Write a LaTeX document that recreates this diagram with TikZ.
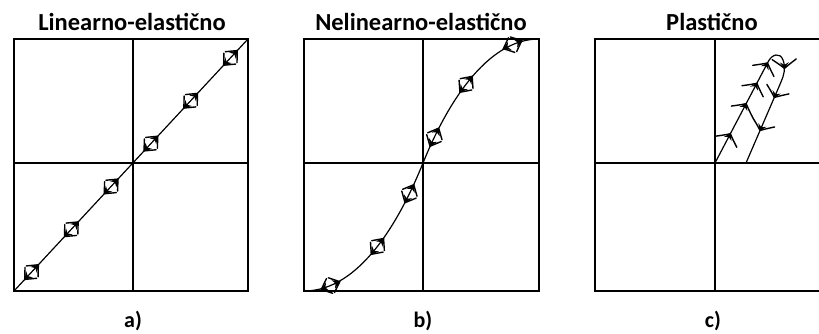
\documentclass[tikz,border=0pt]{standalone}
\usepackage{fontspec}
\setmainfont{Carlito}
\usetikzlibrary{decorations.markings}
\tikzset{
  frame/.style={line width=1.7pt},
  curve/.style={line width=1.2pt},
  ttl/.style={font=\bfseries\fontsize{24.5}{27}\selectfont, anchor=base, inner sep=0pt},
  lbl/.style={font=\bfseries\fontsize{22}{24}\selectfont, anchor=base, inner sep=0pt},
  barb/.style={line width=1.4pt, line cap=round},
  twoway/.style={postaction={decorate, decoration={markings,
    mark=between positions #1 with {%
      \draw[barb] (1pt,8pt) .. controls (6pt,4pt) .. (10pt,0pt) .. controls (6pt,-4pt) .. (1pt,-8pt);
      \draw[barb] (-1pt,8pt) .. controls (-6pt,4pt) .. (-10pt,0pt) .. controls (-6pt,-4pt) .. (-1pt,-8pt);
      \fill (10.5pt,0pt) -- (3pt,4.5pt) -- (5.5pt,0pt) -- (3pt,-4.5pt) -- cycle;
      \fill (-10.5pt,0pt) -- (-3pt,4.5pt) -- (-5.5pt,0pt) -- (-3pt,-4.5pt) -- cycle;}}}},
  oneway/.style={postaction={decorate, decoration={markings,
    mark=at position #1 with {%
      \draw[barb] (-8pt,12pt) .. controls (-3pt,5pt) .. (1pt,0pt) .. controls (-3pt,-5pt) .. (-8pt,-12pt);
      \fill (1.5pt,0pt) -- (-5pt,4.5pt) -- (-2.5pt,0pt) -- (-5pt,-4.5pt) -- cycle;}}}}
}
\begin{document}
\begin{tikzpicture}[x=1pt,y=-1pt]
\clip (0,0) rectangle (819,334);
\useasboundingbox (0,0) rectangle (819,334);

% ---------- panel a ----------
\coordinate (oa) at (133,163);
\draw[frame] (14,39) rectangle (248,291);
\draw[frame] (133,39) -- (133,291);
\draw[frame] (14,163) -- (248,163);
\coordinate (a0) at (14,291);
\coordinate (a1) at (248,39);
\draw[curve, twoway={0.075 and 0.93 step 0.17}] (a0) -- (a1);
\node[ttl] (ta) at (132,31) {Linearno-elastično};
\node[lbl] (la) at (133,327) {a)};

% ---------- panel b ----------
\coordinate (ob) at (423,163);
\draw[frame] (304,39) rectangle (539,291);
\draw[frame] (423,39) -- (423,291);
\draw[frame] (304,163) -- (539,163);
\coordinate (b0) at (304,291);
\coordinate (b1) at (539,39);
\draw[curve, twoway={0.075 and 0.93 step 0.17}] (b0) .. controls (360,291) and (400,220) .. (ob)
   .. controls (446,106) and (486,39) .. (b1);
\node[ttl] (tb) at (421,31) {Nelinearno-elastično};
\node[lbl] (lb) at (423,327) {b)};

% ---------- panel c ----------
\coordinate (oc) at (715,163);
\draw[frame] (595,39) rectangle (835,291);
\draw[frame] (715,39) -- (715,291);
\draw[frame] (595,163) -- (835,163);
\coordinate (c1) at (746,163);
\draw[curve, oneway=32pt, oneway=66pt, oneway=89pt, oneway=112pt,
      oneway=142pt, oneway=173pt, oneway=209pt]
  (oc) -- (768,62) .. controls (772,54) and (780,52) .. (783,60)
  .. controls (786,68) and (784,75) .. (781,82) -- (c1);
\node[ttl] (tc) at (712,31) {Plastično};
\node[lbl] (lc) at (713,327) {c)};
\end{tikzpicture}
\end{document}
